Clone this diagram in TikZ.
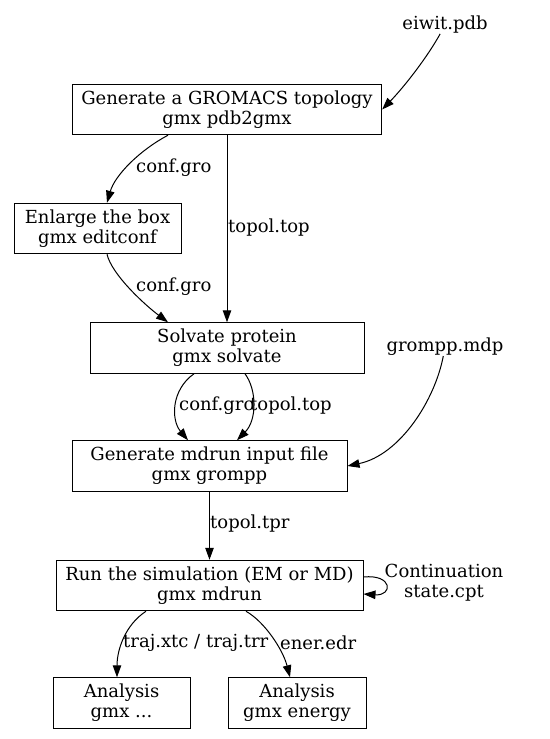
\documentclass[tikz,border=0pt]{standalone}
\usepackage{fontspec}
\setmainfont{DejaVu Serif}
\usetikzlibrary{positioning, arrows.meta}
\tikzstyle{tool} = [
    rectangle,
    draw,
    line width = 1pt,
    align = center,
    inner xsep = 9pt,
    inner ysep = 0pt,
    minimum height = 50.5pt,
    font = \fontsize{18}{20.2}\selectfont
]
\tikzstyle{file} = [
    align = center,
    inner sep = 0pt,
    font = \fontsize{18}{20.2}\selectfont
]
\tikzstyle{flow} = [
    -{Triangle[length=12pt, width=8.5pt]},
    line width = 1pt
]
\begin{document}
\begin{tikzpicture}[x=1pt, y=1pt]
\useasboundingbox (0,0) rectangle (549,-739);

                % topology
                \node [file] (eiwit) at (445,-25) {eiwit.pdb};
                \node [tool, minimum width = 308pt] (pdb2gmx) at (227,-109.5) {Generate a GROMACS topology\\gmx pdb2gmx};
                \node [tool, minimum width = 167pt] (editconf) at (97.5,-228.5) {Enlarge the box\\gmx editconf};
                \node [tool, minimum width = 274pt, below = 187pt of pdb2gmx] (solvate) {Solvate protein\\gmx solvate};

                % input file
                \node [file] (mdp) at (445,-347) {grompp.mdp};
                \node [tool, minimum width = 275pt] (grompp) at (209.5,-466) {Generate mdrun input file\\gmx grompp};

                % simulation
                \node [tool, minimum width = 307pt, below = 68pt of grompp] (mdrun) {Run the simulation (EM or MD)\\gmx mdrun};
                \node [file] (contLbl) at (444,-583) {Continuation\\state.cpt};

                % analysis
                \node [tool, minimum width = 137pt] (ana1) at (121.5,-703) {Analysis\\gmx ...};
                \node [tool, minimum width = 138pt] (ana2) at (297,-703) {Analysis\\gmx energy};

                % edges
                \draw [flow] (eiwit) .. controls (428,-56) and (405,-86) .. (pdb2gmx.east);
                \draw [flow] ([xshift=-59pt]pdb2gmx.south) .. controls (140,-150) and (115,-175) .. ([xshift=9.5pt]editconf.north);
                \node [file, anchor=west] (conf1Lbl) at (136,-168) {conf.gro};
                \draw [flow] (pdb2gmx) -- (solvate);
                \node [file, anchor=west] (topLbl) at (228,-228) {topol.top};
                \draw [flow] ([xshift=9.5pt]editconf.south) .. controls (112,-275) and (145,-305) .. ([xshift=-59pt]solvate.north);
                \node [file, anchor=west] (conf2Lbl) at (136,-287) {conf.gro};

                \draw [flow] ([xshift=-33pt]solvate.south) .. controls (171,-390) and (171,-420) .. ([xshift=-21.5pt]grompp.north);
                \node [file, anchor=west] (conf3Lbl) at (179,-406) {conf.gro};
                \draw [flow] ([xshift=18pt]solvate.south) .. controls (257,-390) and (257,-420) .. ([xshift=27.5pt]grompp.north);
                \node [file, anchor=west] (top2Lbl) at (250,-406) {topol.top};
                \draw [flow] (mdp) .. controls (435,-400) and (400,-455) .. (grompp.east);

                \draw [flow] (grompp) -- (mdrun);
                \node [file, anchor=west] (tprLbl) at (210,-524) {topol.tpr};
                \draw [flow] ([yshift=8.5pt]mdrun.east) .. controls (393,-574) and (393,-596) .. ([yshift=-8.5pt]mdrun.east);

                \draw [flow] ([xshift=-63.5pt]mdrun.south) .. controls (125,-625) and (117,-650) .. ([xshift=-4.5pt]ana1.north);
                \node [file, anchor=west] (trajLbl) at (123,-643) {traj.xtc / traj.trr};
                \draw [flow] ([xshift=36.5pt]mdrun.south) .. controls (265,-622) and (283,-650) .. ([xshift=-7pt]ana2.north);
                \node [file, anchor=west] (enerLbl) at (280,-643) {ener.edr};

\end{tikzpicture}
\end{document}
